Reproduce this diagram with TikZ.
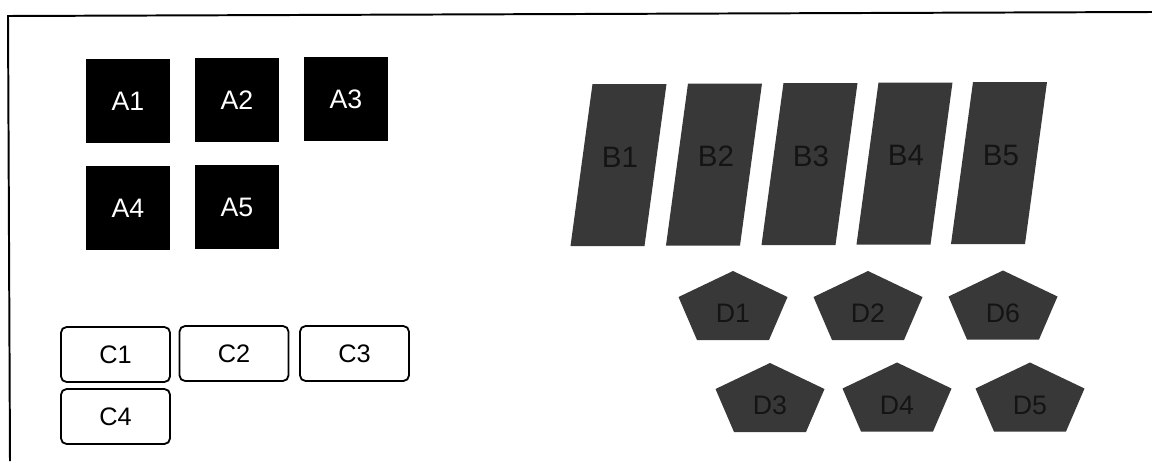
\documentclass[tikz,border=0pt]{standalone}
\usepackage{fontspec}
\setmainfont{Liberation Sans}

\begin{document}
\begin{tikzpicture}[x=0.025cm, y=-0.025cm,
  abox/.style={fill=black, text=white, minimum size=2.075cm, inner sep=0pt,
    font=\fontsize{19}{22}\selectfont},
  bshape/.style={fill=black!78},
  blabel/.style={text=black!92, inner sep=0pt, font=\fontsize{21}{24}\selectfont},
  cbox/.style={draw=black, line width=1.3pt, rounded corners=4pt, fill=white,
    minimum width=2.725cm, minimum height=1.375cm, inner sep=0pt,
    font=\fontsize{18}{21}\selectfont},
  dshape/.style={fill=black!78},
  dlabel/.style={text=black!92, inner sep=0pt, font=\fontsize{19}{22}\selectfont}]

\useasboundingbox (0,0) rectangle (1152,461);

% Frame
\draw[line width=1.4pt] (10,461) -- (8,16) -- (1152,12);

% Black squares
\node[abox] (A1) at (128,101) {A1};
\node[abox] (A2) at (237,100) {A2};
\node[abox] (A3) at (346,99)  {A3};
\node[abox] (A4) at (128,208) {A4};
\node[abox] (A5) at (237,207) {A5};

% Slanted bars
\fill[bshape, shift={(618.5,165)}] (-26,-81) -- (48,-81) -- (26,81) -- (-48,81) -- cycle;
\fill[bshape, shift={(714,164.5)}] (-26,-81) -- (48,-81) -- (26,81) -- (-48,81) -- cycle;
\fill[bshape, shift={(809.5,164)}] (-26,-81) -- (48,-81) -- (26,81) -- (-48,81) -- cycle;
\fill[bshape, shift={(904.5,163.5)}] (-26,-81) -- (48,-81) -- (26,81) -- (-48,81) -- cycle;
\fill[bshape, shift={(999,163)}]   (-26,-81) -- (48,-81) -- (26,81) -- (-48,81) -- cycle;

\node[blabel] (B1) at (620,157) {B1};
\node[blabel] (B2) at (716,156.5) {B2};
\node[blabel] (B3) at (811,156) {B3};
\node[blabel] (B4) at (906,155.5) {B4};
\node[blabel] (B5) at (1001,155) {B5};

% Rounded boxes
\node[cbox] (C1) at (115.5,354.5) {C1};
\node[cbox] (C2) at (234,353.5)   {C2};
\node[cbox] (C3) at (354.5,353.5) {C3};
\node[cbox] (C4) at (115.5,416.5) {C4};

% Pentagons
\fill[dshape, shift={(733,305.5)}] (0,-34.5) -- (54.5,-8.5) -- (36,34.5) -- (-36,34.5) -- (-54.5,-8.5) -- cycle;
\fill[dshape, shift={(868,305.5)}] (0,-34.5) -- (54.5,-8.5) -- (36,34.5) -- (-36,34.5) -- (-54.5,-8.5) -- cycle;
\fill[dshape, shift={(1003,305)}]  (0,-34.5) -- (54.5,-8.5) -- (36,34.5) -- (-36,34.5) -- (-54.5,-8.5) -- cycle;
\fill[dshape, shift={(770,397.5)}] (0,-34.5) -- (54.5,-8.5) -- (36,34.5) -- (-36,34.5) -- (-54.5,-8.5) -- cycle;
\fill[dshape, shift={(897,397)}]   (0,-34.5) -- (54.5,-8.5) -- (36,34.5) -- (-36,34.5) -- (-54.5,-8.5) -- cycle;
\fill[dshape, shift={(1030,397)}]  (0,-34.5) -- (54.5,-8.5) -- (36,34.5) -- (-36,34.5) -- (-54.5,-8.5) -- cycle;

\node[dlabel] (D1) at (733,313.5)  {D1};
\node[dlabel] (D2) at (868,313.5)  {D2};
\node[dlabel] (D6) at (1003,313)   {D6};
\node[dlabel] (D3) at (770,405.5)  {D3};
\node[dlabel] (D4) at (897,405)    {D4};
\node[dlabel] (D5) at (1030,405)   {D5};

\end{tikzpicture}
\end{document}
